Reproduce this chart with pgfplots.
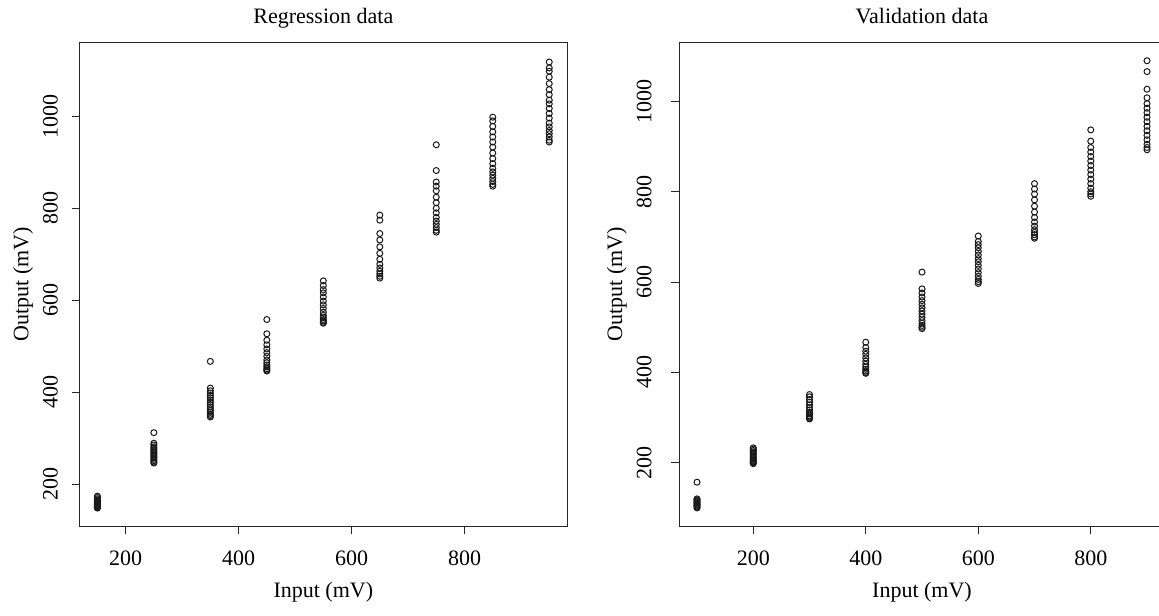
\documentclass[border=0pt]{standalone}
\usepackage{pgfplots}
\pgfplotsset{compat=1.18}
\usepackage{pgfplotstable}
\usepackage{fontspec}
\setmainfont{Liberation Serif}

\pgfplotstableread{
x y
150 148
150 149
150 150
150 151
150 152
150 153
150 155
150 157
150 159
150 161
150 163
150 165
150 168
150 171
150 174
250 312
250 289
250 285
250 281
250 278
250 275
250 272
250 269
250 266
250 263
250 260
250 257
250 254
250 251
250 248
250 246
350 467
350 409
350 403
350 398
350 393
350 388
350 383
350 378
350 373
350 368
350 364
350 360
350 356
350 352
350 349
350 346
450 558
450 527
450 513
450 503
450 494
450 486
450 478
450 470
450 464
450 459
450 455
450 451
450 448
450 446
550 642
550 632
550 623
550 616
550 607
550 598
550 590
550 582
550 574
550 567
550 562
550 558
550 555
550 552
550 550
650 785
650 774
650 745
650 731
650 716
650 702
650 689
650 678
650 670
650 663
650 657
650 652
650 648
750 938
750 882
750 857
750 848
750 838
750 824
750 812
750 800
750 790
750 780
750 772
750 765
750 758
750 752
750 748
850 998
850 990
850 978
850 966
850 955
850 944
850 933
850 920
850 908
850 897
850 887
850 879
850 872
850 865
850 858
850 852
850 848
950 1118
950 1105
950 1098
950 1085
950 1071
950 1058
950 1047
950 1035
950 1027
950 1017
950 1006
950 996
950 985
950 977
950 969
950 962
950 955
950 948
950 944
}\regdata

\pgfplotstableread{
x y
100 157
100 120
100 118
100 116
100 114
100 112
100 110
100 108
100 106
100 104
100 102
100 100
200 233
200 230
200 227
200 224
200 221
200 218
200 215
200 212
200 209
200 206
200 204
200 202
200 200
200 198
300 351
300 346
300 340
300 334
300 328
300 322
300 317
300 312
300 308
300 304
300 301
300 299
300 297
400 467
400 455
400 447
400 440
400 432
400 425
400 418
400 412
400 407
400 403
400 400
400 398
500 622
500 585
500 576
500 567
500 559
500 551
500 543
500 536
500 529
500 522
500 515
500 509
500 504
500 500
500 497
600 702
600 690
600 683
600 676
600 668
600 660
600 652
600 645
600 637
600 629
600 621
600 613
600 606
600 601
600 597
700 818
700 806
700 795
700 782
700 768
700 755
700 743
700 733
700 724
700 716
700 710
700 705
700 700
700 697
800 937
800 912
800 898
800 888
800 878
800 868
800 858
800 848
800 838
800 828
800 818
800 808
800 800
800 795
800 790
900 1090
900 1066
900 1027
900 1008
900 995
900 985
900 975
900 965
900 955
900 945
900 935
900 925
900 915
900 905
900 898
900 893
}\valdata

\pgfplotsset{
  myax/.style={
    scale only axis, anchor=south west,
    height=241.65pt,
    axis line style={black!85, line width=0.5pt},
    tick align=outside, xtick pos=left, ytick pos=left,
    major tick length=3.8pt,
    tick style={black!85, line width=0.5pt},
    every tick label/.append style={font=\fontsize{11}{13}\selectfont},
    /pgf/number format/assume math mode=true,
    /pgf/number format/1000 sep={},
    label style={font=\fontsize{11}{13}\selectfont},
    title style={font=\fontsize{11}{13}\selectfont, at={(0.5,1)}, anchor=base, yshift=3.5pt},
    xlabel style={at={(0.5,0)}, anchor=base, yshift=-35.5pt},
    xticklabel style={anchor=north, inner sep=0pt, yshift=-8.2pt},
    xtick={200,400,600,800}, ytick={200,400,600,800,1000},
    xlabel={Input (mV)}, ylabel={Output (mV)},
  },
  mypts/.style={only marks, mark=o, mark size=1.5pt, black!90, mark options={line width=0.5pt}},
}

\begin{document}
\begin{tikzpicture}
\path[use as bounding box, clip] (0,0) rectangle (579.5pt,307.5pt);
\begin{axis}[myax, at={(39.65pt,44.5pt)}, width=244pt,
  xmin=118, xmax=982, ymin=109, ymax=1160,
  title={Regression data},
  ylabel style={at={(-0.1045,0.5)}, anchor=base},
  yticklabel style={xshift=-7pt, rotate=90, anchor=base, inner sep=0pt}]
\addplot[mypts] table {\regdata};
\end{axis}
\begin{axis}[myax, at={(339.5pt,44.5pt)}, width=243pt,
  xmin=68, xmax=932, ymin=60, ymax=1130,
  title={Validation data},
  ylabel style={at={(-0.1173,0.5)}, anchor=base},
  yticklabel style={xshift=-10pt, rotate=90, anchor=base, inner sep=0pt}]
\addplot[mypts] table {\valdata};
\end{axis}
\end{tikzpicture}
\end{document}
